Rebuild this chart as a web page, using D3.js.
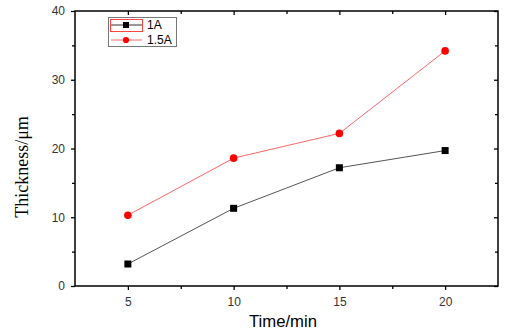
<!DOCTYPE html>
<html><head><meta charset="utf-8">
<script src="https://cdn.jsdelivr.net/npm/d3@7"></script>
<style>body{margin:0;background:#fff}</style>
</head><body>
<svg id="c" width="520" height="336"></svg>
<script>
const times = [5, 10, 15, 20];
const series1A = [3.2, 11.3, 17.2, 19.7];
const series15A = [10.3, 18.6, 22.2, 34.2];
const seriesNames = ["1A", "1.5A"];
const xTicks = [5, 10, 15, 20];
const yTicks = [0, 10, 20, 30, 40];

const svg = d3.select("#c");
const L = 75, R = 498, T = 11, B = 286;
const x = d3.scaleLinear().domain([2.5, 22.5]).range([L, R]);
const y = d3.scaleLinear().domain([0, 40]).range([B, T]);

// frame
svg.append("rect").attr("x", L).attr("y", T).attr("width", R - L).attr("height", B - T)
  .attr("fill", "none").attr("stroke", "#000").attr("stroke-width", 1.5);

const gx = svg.append("g").attr("transform", `translate(0,${B})`)
  .call(d3.axisBottom(x).tickValues(xTicks).tickSize(4).tickPadding(7).tickFormat(d3.format("d")));
const gxm = svg.append("g").attr("transform", `translate(0,${B})`)
  .call(d3.axisBottom(x).tickValues([7.5, 12.5, 17.5]).tickSize(3).tickFormat(""));
const gy = svg.append("g").attr("transform", `translate(${L},0)`)
  .call(d3.axisLeft(y).tickValues(yTicks).tickSize(4).tickPadding(6).tickFormat(d3.format("d")));
const gym = svg.append("g").attr("transform", `translate(${L},0)`)
  .call(d3.axisLeft(y).tickValues([5, 15, 25, 35]).tickSize(3).tickFormat(""));
const gt = svg.append("g").attr("transform", `translate(0,${T})`)
  .call(d3.axisBottom(x).tickValues(xTicks).tickSize(4).tickFormat(""));
const gtm = svg.append("g").attr("transform", `translate(0,${T})`)
  .call(d3.axisBottom(x).tickValues([7.5, 12.5, 17.5]).tickSize(3).tickFormat(""));
const gr = svg.append("g").attr("transform", `translate(${R},0)`)
  .call(d3.axisLeft(y).tickValues(yTicks).tickSize(4).tickFormat(""));
const grm = svg.append("g").attr("transform", `translate(${R},0)`)
  .call(d3.axisLeft(y).tickValues([5, 15, 25, 35]).tickSize(3).tickFormat(""));
[gx, gxm, gy, gym, gt, gtm, gr, grm].forEach(g => {
  g.select(".domain").remove();
  g.selectAll("line").attr("stroke", "#000").attr("stroke-width", 1.3);
  g.selectAll("text").attr("font-family", "Liberation Sans, Arial, sans-serif").attr("font-size", 12).attr("fill", "#333");
});

const line = d3.line().x(d => x(d[0])).y(d => y(d[1]));
const d1 = times.map((t, i) => [t, series1A[i]]);
const d2 = times.map((t, i) => [t, series15A[i]]);

svg.append("path").datum(d1).attr("d", line).attr("fill", "none").attr("stroke", "#555").attr("stroke-width", 1);
svg.append("path").datum(d2).attr("d", line).attr("fill", "none").attr("stroke", "#f66").attr("stroke-width", 1);

svg.selectAll(".sq").data(d1).enter().append("rect")
  .attr("x", d => x(d[0]) - 3.5).attr("y", d => y(d[1]) - 3.5).attr("width", 7).attr("height", 7).attr("fill", "#000");
svg.selectAll(".ci").data(d2).enter().append("circle")
  .attr("cx", d => x(d[0])).attr("cy", d => y(d[1])).attr("r", 3.8).attr("fill", "#f00");

// legend
const lg = svg.append("g");
lg.append("rect").attr("x", 108.5).attr("y", 17.5).attr("width", 68).attr("height", 29).attr("fill", "#fff").attr("stroke", "#777").attr("stroke-width", 1);
lg.append("rect").attr("x", 110.5).attr("y", 19.5).attr("width", 32).attr("height", 12).attr("fill", "none").attr("stroke", "#f44").attr("stroke-width", 1);
lg.append("line").attr("x1", 111).attr("x2", 142).attr("y1", 25).attr("y2", 25).attr("stroke", "#333");
lg.append("rect").attr("x", 123).attr("y", 22).attr("width", 6).attr("height", 6).attr("fill", "#000");
lg.append("line").attr("x1", 111).attr("x2", 142).attr("y1", 40).attr("y2", 40).attr("stroke", "#f66");
lg.append("circle").attr("cx", 126).attr("cy", 40).attr("r", 3.1).attr("fill", "#f00");
lg.append("text").attr("x", 147).attr("y", 29).text(seriesNames[0]).attr("font-family", "Liberation Sans, Arial, sans-serif").attr("font-size", 12).attr("fill", "#000");
lg.append("text").attr("x", 147).attr("y", 44).text(seriesNames[1]).attr("font-family", "Liberation Sans, Arial, sans-serif").attr("font-size", 12).attr("fill", "#000");

// axis titles
svg.append("text").attr("x", 283).attr("y", 327).attr("text-anchor", "middle")
  .attr("font-family", "Liberation Sans, Arial, sans-serif").attr("font-size", 17)
  .attr("textLength", 68).attr("lengthAdjust", "spacingAndGlyphs").attr("fill", "#000").text("Time/min");
svg.append("text").attr("transform", "translate(28,167) rotate(-90)").attr("text-anchor", "middle")
  .attr("font-family", "Liberation Serif, Times New Roman, serif").attr("font-size", 18).attr("fill", "#000").text("Thickness/μm");
</script>
</body></html>
